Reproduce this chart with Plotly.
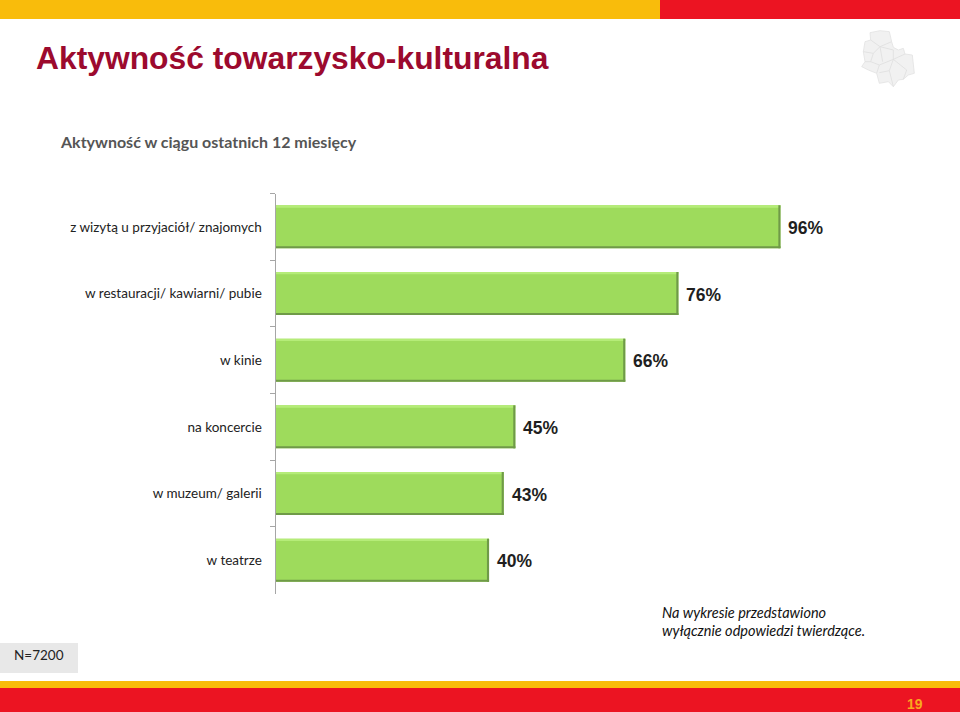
import plotly.graph_objects as go

W, H = 960, 712
categories = ["z wizytą u przyjaciół/ znajomych", "w restauracji/ kawiarni/ pubie", "w kinie",
              "na koncercie", "w muzeum/ galerii", "w teatrze"]
values = [96.0, 76.6, 66.5, 45.6, 43.4, 40.6]
labels = ["96%", "76%", "66%", "45%", "43%", "40%"]

BAR = 0.645
TOP = -BAR / 2
fig = go.Figure()
fig.add_bar(y=categories, x=values, orientation="h", width=BAR, marker=dict(color="#9EDB5C", line_width=0),
            hoverinfo="skip")
# bevel: light top edge, dark bottom and right edges
fig.add_bar(y=categories, x=values, orientation="h", width=0.035, offset=TOP,
            marker=dict(color="#B5EC78", line_width=0), hoverinfo="skip")
fig.add_bar(y=categories, x=values, orientation="h", width=0.03, offset=TOP + BAR - 0.03,
            marker=dict(color="#6F9A48", line_width=0), hoverinfo="skip")
fig.add_bar(y=categories, x=[0.4] * len(values), base=[v - 0.4 for v in values], orientation="h", width=BAR,
            marker=dict(color="#6F9A48", line_width=0), hoverinfo="skip")
for c, v, l in zip(categories, values, labels):
    fig.add_annotation(x=v, y=c, xref="x", yref="y", text=f"<b>{l}</b>", showarrow=False, xanchor="left",
                       xshift=6, yshift=-1, font=dict(family="Liberation Sans", size=17.5, color="#1f1f1f"))


def px(x, y):
    return x / W, 1 - y / H


def rect(x0, y0, x1, y1, color):
    a, b = px(x0, y0)
    c, d = px(x1, y1)
    fig.add_shape(type="rect", xref="paper", yref="paper", x0=a, y0=b, x1=c, y1=d,
                  fillcolor=color, line_width=0, layer="below")


def text(x, y, s, size, color, family, anchor="left", bold=False, italic=False):
    a, b = px(x, y)
    if bold:
        s = f"<b>{s}</b>"
    if italic:
        s = f"<i>{s}</i>"
    fig.add_annotation(xref="paper", yref="paper", x=a, y=b, text=s, showarrow=False, xanchor=anchor,
                       yanchor="middle", font=dict(size=size, color=color, family=family), align="left")


def poly(points, fill, line):
    d = "M" + " L".join(f"{px(850 + x / 3, 20 + y / 3)[0]:.5f},{px(850 + x / 3, 20 + y / 3)[1]:.5f}" for x, y in points)
    if fill != "rgba(0,0,0,0)":
        d += " Z"
    fig.add_shape(type="path", xref="paper", yref="paper", path=d, fillcolor=fill,
                  line=dict(color=line, width=0.8), layer="below")


rect(0, 0, 660, 19, "#F9BC0B")
rect(660, 0, 960, 19, "#EC1422")
rect(0, 681, 960, 688, "#F9BC0B")
rect(0, 688, 960, 712, "#EC1422")
rect(0, 643, 78, 673, "#E8E8E8")

# district map emblem
poly([(60, 38), (90, 32), (118, 35), (125, 65), (130, 82), (145, 90), (160, 85), (165, 102), (187, 105), (193, 160),
      (175, 165), (160, 178), (145, 180), (130, 200), (115, 185), (88, 190), (80, 160), (55, 150), (35, 140),
      (45, 125), (40, 95), (45, 65), (62, 60)], "#F1F1F1", "#E2E2E2")
for line in [[(62, 60), (90, 80), (125, 65)], [(40, 95), (70, 100), (90, 80), (130, 90), (130, 118), (165, 102)],
             [(70, 100), (62, 125), (45, 125)], [(62, 125), (88, 135), (80, 160)], [(88, 135), (130, 118), (170, 150), (160, 178)],
             [(90, 80), (98, 125)], [(88, 158), (118, 152), (130, 200)], [(118, 152), (130, 118)]]:
    poly(line, "rgba(0,0,0,0)", "#DEDEDE")

text(34, 58, "Aktywność towarzysko-kulturalna", 31.8, "#9C0A2E", "Liberation Sans", bold=True)
text(58, 141, "Aktywność w ciągu ostatnich 12 miesięcy", 16, "#555555", "Lato", bold=True)
text(39, 655, "N=7200", 13.5, "#222222", "Lato", anchor="center")
text(660, 612, "Na wykresie przedstawiono", 14.5, "#111111", "Lato", italic=True)
text(660, 630, "wyłącznie odpowiedzi twierdzące.", 14.5, "#111111", "Lato", italic=True)
text(915, 704, "19", 14, "#F9A81E", "Liberation Sans", anchor="center", bold=True)

fig.update_layout(
    width=W, height=H, autosize=False, margin=dict(l=0, r=0, t=0, b=0),
    paper_bgcolor="white", plot_bgcolor="white", barmode="overlay", showlegend=False,
    xaxis=dict(domain=[275.5 / W, 1], range=[0, (W - 275.5) / 5.26], visible=False),
    yaxis=dict(domain=[1 - 593.5 / H, 1 - 193.5 / H], autorange="reversed", type="category",
               showline=True, linecolor="#A6A6A6", linewidth=1, ticks="outside", ticklen=5,
               tickcolor="#A6A6A6", tickson="boundaries", ticklabelstandoff=10,
               tickfont=dict(family="Lato", size=13.5, color="#222222"), showgrid=False),
)
fig.write_html("out.html", config={"displayModeBar": False},
               post_script="document.body.style.margin='0';document.body.style.overflow='hidden';")
